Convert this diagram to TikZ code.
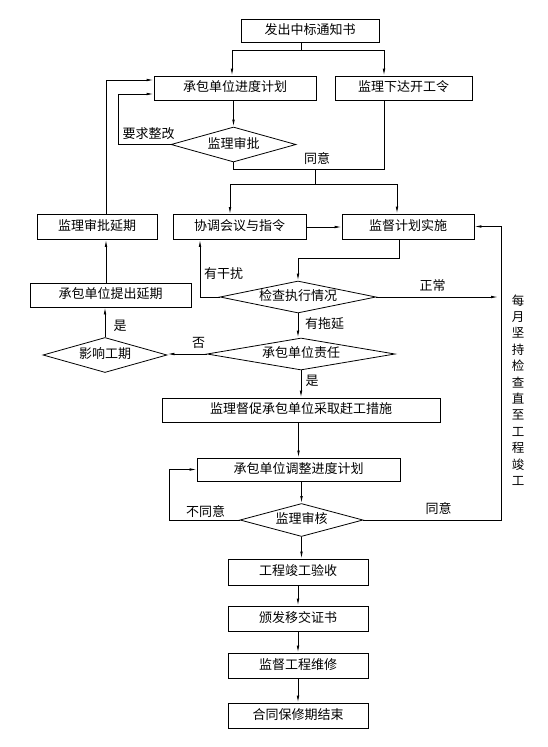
\documentclass[tikz,border=0pt]{standalone}
\usepackage{fontspec}
\setmainfont{Noto Sans CJK SC}
\usetikzlibrary{shapes.geometric,arrows.meta,calc}
\begin{document}
\begin{tikzpicture}[x=1pt,y=-1pt,
  line width=0.8pt,
  txt/.style={font=\fontsize{13}{15}\selectfont, text height=10pt, text depth=2.5pt, inner sep=0pt},
  box/.style={txt, draw, rectangle, minimum height=24pt},
  dia/.style={txt, draw, diamond},
  lbl/.style={txt},
  arr/.style={-{Latex[length=7pt,width=2.6pt]}}]
\useasboundingbox (0,0) rectangle (547,747);

% nodes
\node[box, minimum width=138pt, minimum height=23pt] (n1) at (310,30.5) {发出中标通知书};
\node[box, minimum width=162pt] (n2) at (235,88) {承包单位进度计划};
\node[box, minimum width=137pt] (n3) at (403.5,88) {监理下达开工令};
\node[dia, minimum width=125pt, minimum height=35pt, aspect=3.57] (d1) at (233.5,144.5) {监理审批};
\node[box, minimum width=120pt, minimum height=25pt] (n4) at (97,227) {监理审批延期};
\node[box, minimum width=133pt, minimum height=25pt] (n5) at (239.5,227) {协调会议与指令};
\node[box, minimum width=132pt, minimum height=25pt] (n6) at (408,226.5) {监督计划实施};
\node[dia, minimum width=156pt, minimum height=32pt, aspect=4.875] (d2) at (298,297) {检查执行情况};
\node[box, minimum width=161pt] (n7) at (110.5,295) {承包单位提出延期};
\node[dia, minimum width=188pt, minimum height=32pt, aspect=5.875] (d3) at (301,354) {承包单位责任};
\node[dia, minimum width=124pt, minimum height=35pt, aspect=3.54] (d4) at (105,355) {影响工期};
\node[box, minimum width=278pt] (n8) at (301,410) {监理督促承包单位采取赶工措施};
\node[box, minimum width=203pt, minimum height=23pt] (n9) at (298.5,469.5) {承包单位调整进度计划};
\node[dia, minimum width=123pt, minimum height=33pt, aspect=3.73] (d5) at (301.5,520) {监理审核};
\node[box, minimum width=140pt, minimum height=26pt] (n10) at (298,572) {工程竣工验收};
\node[box, minimum width=140pt, minimum height=25pt] (n11) at (298,618.5) {颁发移交证书};
\node[box, minimum width=140pt, minimum height=25pt] (n12) at (298,665.5) {监督工程维修};
\node[box, minimum width=140pt, minimum height=25pt] (n13) at (298,715.5) {合同保修期结束};

\node[inner sep=0pt, align=center, font=\fontsize{12.5}{16.4}\selectfont] (vt) at (518,390)
  {每\\月\\坚\\持\\检\\查\\直\\至\\工\\程\\竣\\工};

% labels
\node[lbl] (l1) at (148.5,135) {要求整改};
\node[lbl] (l2) at (317,160) {同意};
\node[lbl] (l3) at (223.5,275) {有干扰};
\node[lbl] (l4) at (432.5,287) {正常};
\node[lbl] (l5) at (438.5,510) {同意};
\node[lbl] (l6) at (324.5,325) {有拖延};
\node[lbl] (l7) at (198.5,344) {否};
\node[lbl] (l8) at (120,327) {是};
\node[lbl] (l9) at (312,382) {是};
\node[lbl] (l10) at (205.5,513) {不同意};

% helper coordinates
\coordinate (j1) at (301,50);
\coordinate (j2) at (315,169);
\coordinate (j3) at (315,184);
\coordinate (k1) at (118,0);
\coordinate (k2) at (106,0);
\coordinate (k3) at ([xshift=-19.5pt]n3.south);
\coordinate (k3n) at ([xshift=-19.5pt]n3.north);
\coordinate (k4) at ([xshift=-9.5pt]n5.north);
\coordinate (k5) at ([xshift=-11pt]n6.north);
\coordinate (k6) at ([xshift=-9pt]n6.south);
\coordinate (k7) at ([xshift=-39.5pt]n5.south);
\coordinate (k9) at (169,0);
\coordinate (e1) at (498,297);
\coordinate (r1) at (501,520);

% connectors
\draw (j1 |- n1.south) -- (j1);
\draw[arr] (j1) -| ([xshift=-3pt]n2.north);
\draw[arr] (j1) -| (k3n);
\draw[arr] (d1.north |- n2.south) -- (d1.north);
\draw[arr] (d1.west) -- (d1.west -| k1) |- ([yshift=-6pt]n2.west);
\draw[arr] (n4.north -| k2) |- ([yshift=8pt]n2.west);
\draw (d1.south) |- (k3 |- j2) -- (k3);
\draw (j2) -- (j3);
\draw[arr] (j3) -| (k4);
\draw[arr] (j3) -| (k5);
\draw[arr] (n5.east) -- (n5.east -| n6.west);
\draw[arr] (k6) -- ++(0,19) -| (d2.north);
\draw[arr] (d2.west) -| (k7);
\draw[arr] (d2.east) -- (e1);
\draw[arr] (d5.east) -- (r1) |- (n6.east);
\draw[arr] (d2.south) -- (d2.south |- d3.north);
\draw[arr] (d3.west) -- (d3.west -| d4.east);
\draw[arr] (d4.north) -- (d4.north |- n7.south);
\draw[arr] (n7.north -| k2) -- (n4.south -| k2);
\draw[arr] (d3.south) -- (d3.south |- n8.north);
\draw[arr] (n8.south -| n9.north) -- (n9.north);
\draw[arr] (n9.south -| d5.north) -- (d5.north);
\draw[arr] (d5.west) -- (d5.west -| k9) |- (n9.west);
\draw[arr] (d5.south) -- (d5.south |- n10.north);
\draw[arr] (n10) -- (n11);
\draw[arr] (n11) -- (n12);
\draw[arr] (n12) -- (n13);
\end{tikzpicture}
\end{document}
